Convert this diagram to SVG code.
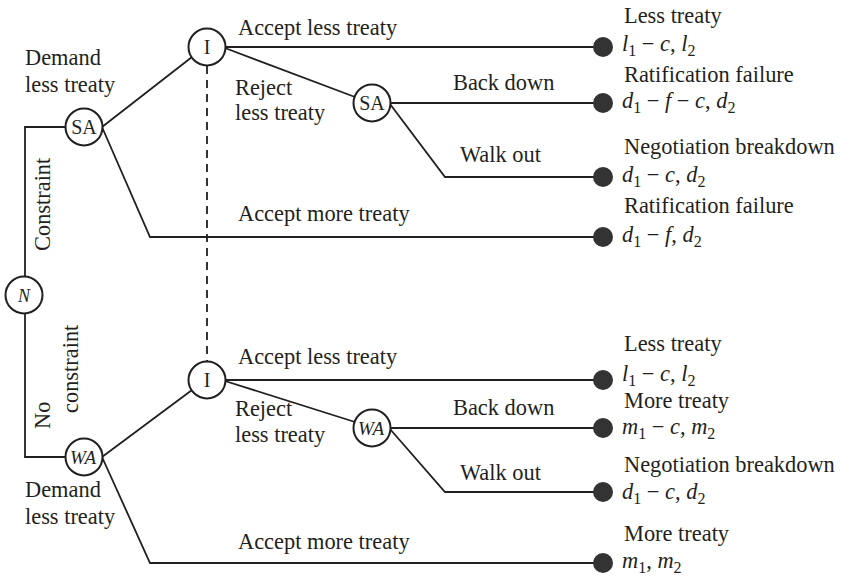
<svg xmlns="http://www.w3.org/2000/svg" width="849" height="576" viewBox="0 0 849 576">
<style>
text{font-family:"Liberation Serif","Times New Roman",serif;font-size:22.4px;fill:#231f20}
.it{font-style:italic}
.sub{font-size:16px}
.node circle{fill:#fff;stroke:#231f20;stroke-width:2}
.node text{font-size:20px;text-anchor:middle}
#connectors path,#connectors line{fill:none;stroke:#231f20;stroke-width:1.8}
.dash{stroke-dasharray:8 6}
.dot{fill:#333}
</style>
<rect width="849" height="576" fill="#fff"/>
<g id="connectors">
<path d="M25,276 V127 H65"/>
<path d="M25,314 V457 H65"/>
<line x1="102" y1="127" x2="192" y2="57"/>
<path d="M102,127 L150,237 H603"/>
<line x1="102" y1="457" x2="192" y2="390"/>
<path d="M102,457 L150,563 H603"/>
<line x1="225" y1="47" x2="603" y2="47"/>
<line x1="225" y1="48" x2="355" y2="97"/>
<line x1="390" y1="103" x2="603" y2="103"/>
<path d="M390,104 L445,177 H603"/>
<line x1="225" y1="380" x2="603" y2="380"/>
<line x1="225" y1="381" x2="355" y2="422"/>
<line x1="390" y1="428" x2="603" y2="428"/>
<path d="M390,429 L445,492 H603"/>
<line class="dash" x1="207" y1="66" x2="207" y2="361"/>
</g>
<g id="node-N" class="node"><circle cx="24" cy="295" r="18.5"/><text x="24" y="301.5" class="it" style="font-size:18px">N</text></g>
<g id="node-SA1" class="node"><circle cx="84" cy="127" r="18.5"/><text x="84" y="134">SA</text></g>
<g id="node-I1" class="node"><circle cx="207" cy="47" r="18.5"/><text x="207" y="54">I</text></g>
<g id="node-SA2" class="node"><circle cx="372" cy="103" r="18.5"/><text x="372" y="110">SA</text></g>
<g id="node-I2" class="node"><circle cx="207" cy="380" r="18.5"/><text x="207" y="387">I</text></g>
<g id="node-WA2" class="node"><circle cx="372" cy="428" r="18.5"/><text x="371" y="435" class="it" style="font-size:19px">WA</text></g>
<g id="node-WA1" class="node"><circle cx="84" cy="457" r="18.5"/><text x="83" y="464" class="it" style="font-size:19px">WA</text></g>
<g id="leaves">
<circle class="dot" cx="603" cy="47" r="10"/>
<circle class="dot" cx="603" cy="103" r="10"/>
<circle class="dot" cx="603" cy="177" r="10"/>
<circle class="dot" cx="603" cy="237" r="10"/>
<circle class="dot" cx="603" cy="380" r="10"/>
<circle class="dot" cx="603" cy="428" r="10"/>
<circle class="dot" cx="603" cy="492" r="10"/>
<circle class="dot" cx="603" cy="563" r="10"/>
</g>
<g id="labels">
<text x="25" y="65">Demand</text>
<text x="25" y="92">less treaty</text>
<text transform="translate(50,251) rotate(-90)">Constraint</text>
<text transform="translate(50,429) rotate(-90)">No</text>
<text transform="translate(78,413) rotate(-90)">constraint</text>
<text x="25" y="497">Demand</text>
<text x="25" y="524">less treaty</text>
<text x="238" y="35">Accept less treaty</text>
<text x="235" y="95">Reject</text>
<text x="235" y="120">less treaty</text>
<text x="453" y="90">Back down</text>
<text x="460" y="162">Walk out</text>
<text x="238" y="221">Accept more treaty</text>
<text x="238" y="364">Accept less treaty</text>
<text x="235" y="416">Reject</text>
<text x="235" y="442">less treaty</text>
<text x="453" y="415">Back down</text>
<text x="460" y="480">Walk out</text>
<text x="238" y="549">Accept more treaty</text>
</g>
<g id="payoffs">
<text x="624" y="23">Less treaty</text>
<text x="622" y="51"><tspan class="it">l</tspan><tspan class="sub" dy="5">1</tspan><tspan dy="-5"> − </tspan><tspan class="it">c</tspan>, <tspan class="it">l</tspan><tspan class="sub" dy="5">2</tspan></text>
<text x="624" y="82">Ratification failure</text>
<text x="622" y="108"><tspan class="it">d</tspan><tspan class="sub" dy="5">1</tspan><tspan dy="-5"> − </tspan><tspan class="it">f</tspan> − <tspan class="it">c</tspan>, <tspan class="it">d</tspan><tspan class="sub" dy="5">2</tspan></text>
<text x="624" y="154">Negotiation breakdown</text>
<text x="622" y="182"><tspan class="it">d</tspan><tspan class="sub" dy="5">1</tspan><tspan dy="-5"> − </tspan><tspan class="it">c</tspan>, <tspan class="it">d</tspan><tspan class="sub" dy="5">2</tspan></text>
<text x="624" y="213">Ratification failure</text>
<text x="622" y="242"><tspan class="it">d</tspan><tspan class="sub" dy="5">1</tspan><tspan dy="-5"> − </tspan><tspan class="it">f</tspan>, <tspan class="it">d</tspan><tspan class="sub" dy="5">2</tspan></text>
<text x="624" y="351">Less treaty</text>
<text x="622" y="381"><tspan class="it">l</tspan><tspan class="sub" dy="5">1</tspan><tspan dy="-5"> − </tspan><tspan class="it">c</tspan>, <tspan class="it">l</tspan><tspan class="sub" dy="5">2</tspan></text>
<text x="624" y="408">More treaty</text>
<text x="622" y="434"><tspan class="it">m</tspan><tspan class="sub" dy="5">1</tspan><tspan dy="-5"> − </tspan><tspan class="it">c</tspan>, <tspan class="it">m</tspan><tspan class="sub" dy="5">2</tspan></text>
<text x="624" y="472">Negotiation breakdown</text>
<text x="622" y="499"><tspan class="it">d</tspan><tspan class="sub" dy="5">1</tspan><tspan dy="-5"> − </tspan><tspan class="it">c</tspan>, <tspan class="it">d</tspan><tspan class="sub" dy="5">2</tspan></text>
<text x="624" y="541">More treaty</text>
<text x="622" y="568"><tspan class="it">m</tspan><tspan class="sub" dy="5">1</tspan><tspan dy="-5">, </tspan><tspan class="it">m</tspan><tspan class="sub" dy="5">2</tspan></text>
</g>
</svg>
